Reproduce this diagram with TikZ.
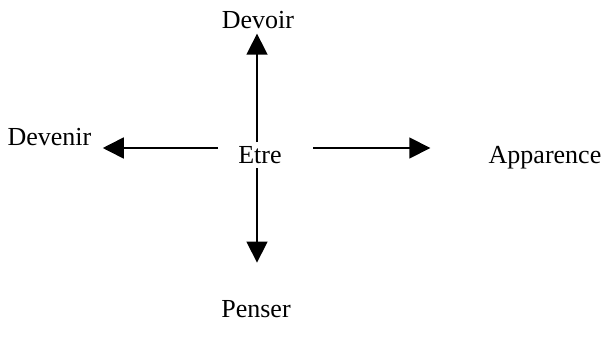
\documentclass[tikz,border=0pt]{standalone}
\usepackage{fontspec}
\setmainfont{Liberation Serif}
\usetikzlibrary{arrows.meta}
\begin{document}
\begin{tikzpicture}[x=0.5pt,y=-0.5pt,
  lbl/.style={inner sep=0pt,anchor=base,font=\fontsize{13}{15}\selectfont},
  arr/.style={line width=0.8pt,-{Triangle[length=10.5pt,width=10.5pt]}}]
  \useasboundingbox (0,0) rectangle (605,337);
  % words
  \node[lbl] (devoir)  at (258,28)  {Devoir};
  \node[lbl] (devenir) at (49.5,145) {Devenir};
  \node[lbl] (etre)    at (260,163) {Etre};
  \node[lbl] (app)     at (545,163) {Apparence};
  \node[lbl] (penser)  at (256,317) {Penser};
  % arrow starting points around the centre word
  \coordinate (eN) at (257,142);
  \coordinate (eS) at (257,168);
  \coordinate (eW) at (218,148);
  \coordinate (eE) at (313,148);
  % arrows
  \draw[arr, shorten >=2.5pt] (eN) -- (eN |- devoir.south);
  \draw[arr, shorten >=18.5pt] (eS) -- (eS |- penser.north);
  \draw[arr, shorten >=5.5pt] (eW) -- (eW -| devenir.east);
  \draw[arr, shorten >=29pt] (eE) -- (eE -| app.west);
\end{tikzpicture}
\end{document}
